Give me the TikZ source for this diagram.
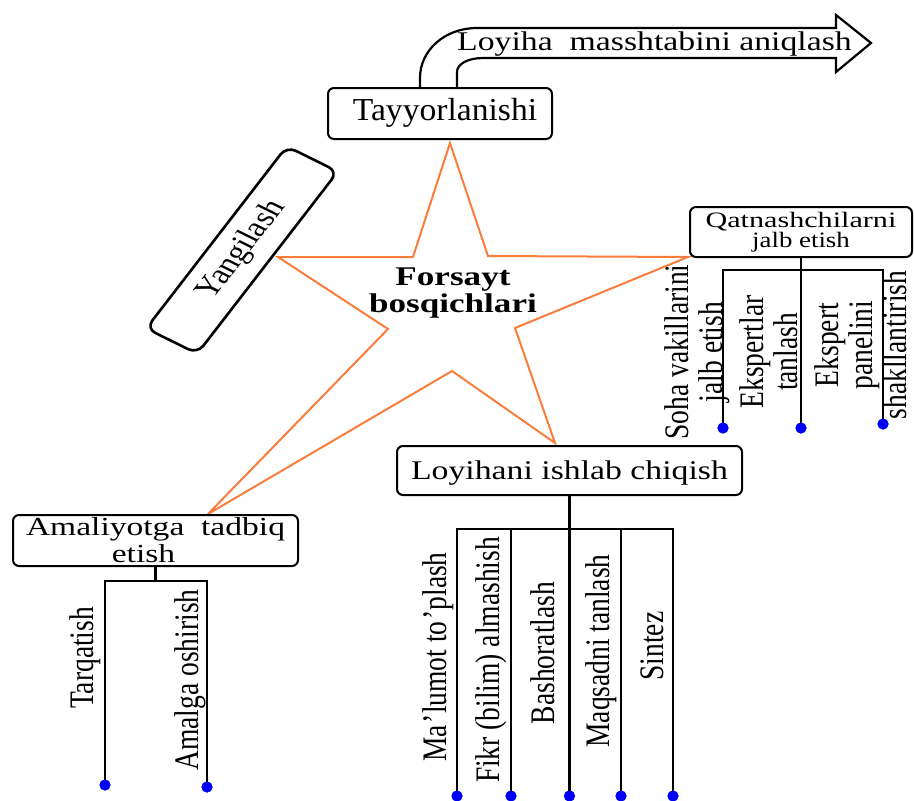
\documentclass[tikz,border=0pt]{standalone}
\usepackage{fontspec}
\setmainfont{Liberation Serif}
\usepackage{graphicx}
\definecolor{starorange}{RGB}{250,125,60}
\definecolor{dotblue}{RGB}{0,0,245}
\newcommand{\hs}[2]{\scalebox{#1}[1]{#2}}
\newcommand{\vtx}[1]{\scalebox{1}[1.25]{\fontsize{27.5}{27}\selectfont\begin{tabular}{@{}c@{}}#1\end{tabular}}}
\tikzset{
  boxnode/.style={draw=black, line width=2pt, rounded corners=6pt, fill=white, inner sep=0pt, align=center},
  starline/.style={draw=starorange, line width=2pt, line join=miter},
  branch/.style={draw=black, line width=2.3pt},
  bluedot/.style={circle, fill=dotblue, draw=none, minimum size=11pt, inner sep=0pt},
  vlabel/.style={rotate=90, inner sep=0pt},
  blockarrow/.style={draw=black, line width=2.2pt, fill=white, line join=miter}
}
\begin{document}
\begin{tikzpicture}[x=1pt,y=-1pt]
\useasboundingbox (0,0) rectangle (914,801);
% star
\draw[starline] (450,143) -- (488,256) -- (688,257) -- (515,328) -- (555,443) -- (452,371) -- (208,514) -- (388,329) -- (278,257) -- (413,257) -- cycle;
% block arrow
\draw[blockarrow] (420,92) -- (420,78) .. controls (420,50) and (445,28) .. (477,28) -- (836,28) -- (836,15) -- (871,43) -- (836,72) -- (836,58) -- (483,58) .. controls (468,58) and (457,64) .. (457,72) -- (457,92);
\node[anchor=base, inner sep=0pt] (arrowtext) at (654.5,50) {\fontsize{27}{27}\selectfont\hs{1.25}{Loyiha\ \ masshtabini aniqlash}};
% boxes
\node[boxnode, minimum width=224pt, minimum height=51pt, text height=21pt, text depth=7pt] (tay) at (440,113.5) {\fontsize{32}{32}\selectfont\hspace*{10pt}\hs{1.05}{Tayyorlanishi}};
\node[boxnode, minimum width=222pt, minimum height=50pt, font=\fontsize{22}{20}\selectfont] (qat) at (801,232) {\hs{1.37}{Qatnashchilarni}\\\hs{1.22}{jalb etish}};
\node[boxnode, minimum width=345pt, minimum height=49pt, text height=21pt, text depth=4pt] (loyb) at (569.5,470.5) {\fontsize{27}{27}\selectfont\hs{1.25}{Loyihani ishlab chiqish}};
\node[boxnode, minimum width=285pt, minimum height=51pt, font=\fontsize{26}{27}\selectfont] (ama) at (155.5,540.5) {\hs{1.29}{Amaliyotga\ \ tadbiq}\\\hspace*{-24pt}\hs{1.29}{etish}};
\begin{scope}[xscale=1.25]
\node[boxnode, rotate=58.3, transform shape, minimum width=214pt, minimum height=48pt, rounded corners=10pt, line width=2.6pt] (yan) at (193.6,250) {\fontsize{28}{28}\selectfont Yangilash};
\end{scope}
% center title
\node[inner sep=0pt, align=center, font=\fontsize{27}{27}\selectfont\bfseries] (title) at (453,293) {\hs{1.3}{Forsayt}\\\hs{1.3}{bosqichlari}};
% branches of Qatnashchilarni
\coordinate (qbar) at (801,270);
\node[bluedot] (qd1) at (723,428) {};
\node[bluedot] (qd2) at (801,428) {};
\node[bluedot] (qd3) at (883,424) {};
\draw[branch] (qat.south) -- (qbar);
\draw[branch] (qbar) -| (qd1.center);
\draw[branch] (qbar) -- (qd2.center);
\draw[branch] (qbar) -| (qd3.center);
\node[bluedot] at (qd1) {};
\node[bluedot] at (qd2) {};
\node[bluedot] at (qd3) {};
\node[vlabel] (qs1) at (699,352) {\vtx{Soha vakillarini\\jalb etish}};
\node[vlabel] (qs2) at (774,352) {\vtx{Ekspertlar\\tanlash}};
\node[vlabel] (qs3) at (866,345) {\vtx{Ekspert\\panelini\\shakllantirish}};
% branches of Loyihani ishlab chiqish
\coordinate (lbar) at (569.5,529);
\node[bluedot] (ld1) at (457,796) {};
\node[bluedot] (ld2) at (511,796) {};
\node[bluedot] (ld3) at (569.5,796) {};
\node[bluedot] (ld4) at (621,796) {};
\node[bluedot] (ld5) at (673,796) {};
\draw[branch] (loyb.south) -- (lbar);
\draw[branch] (lbar) -| (ld1.center);
\draw[branch] (lbar) -| (ld2.center);
\draw[branch] (lbar) -- (ld3.center);
\draw[branch] (lbar) -| (ld4.center);
\draw[branch] (lbar) -| (ld5.center);
\node[bluedot] at (ld1) {};
\node[bluedot] at (ld2) {};
\node[bluedot] at (ld3) {};
\node[bluedot] at (ld4) {};
\node[bluedot] at (ld5) {};
\node[vlabel] (ls1) at (440,657) {\vtx{Ma\kern2pt’lumot to\kern2pt’plash}};
\node[vlabel] (ls2) at (493,660) {\vtx{Fikr (bilim) almashish}};
\node[vlabel] (ls3) at (548,653) {\vtx{Bashoratlash}};
\node[vlabel] (ls4) at (603,651) {\vtx{Maqsadni tanlash}};
\node[vlabel] (ls5) at (657,646) {\vtx{Sintez}};
% branches of Amaliyotga tadbiq etish
\coordinate (abar) at (155.5,581);
\node[bluedot] (ad1) at (105,785) {};
\node[bluedot] (ad2) at (207,787) {};
\draw[branch] (ama.south) -- (abar);
\draw[branch] (abar) -| (ad1.center);
\draw[branch] (abar) -| (ad2.center);
\node[bluedot] at (ad1) {};
\node[bluedot] at (ad2) {};
\node[vlabel] (as1) at (87,658) {\vtx{Tarqatish}};
\node[vlabel] (as2) at (192,680) {\vtx{Amalga oshirish}};
\end{tikzpicture}
\end{document}
